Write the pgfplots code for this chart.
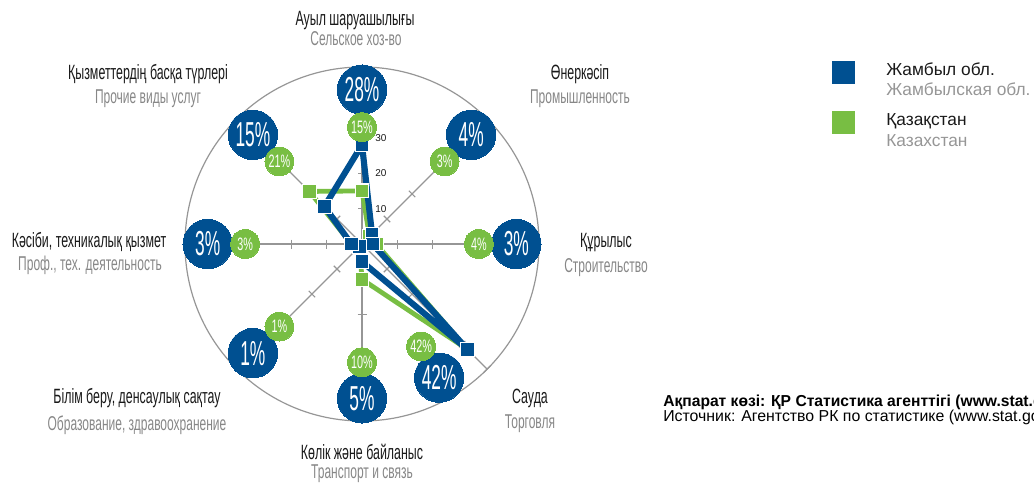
\documentclass[border=0pt]{standalone}
\usepackage{pgfplots}
\pgfplotsset{compat=1.18}
\usepgfplotslibrary{polar}
\usepackage{fontspec}
\setmainfont{Liberation Sans}
\newfontfamily\condA[FakeStretch=0.5]{Liberation Sans}
\newfontfamily\condB[FakeStretch=0.6]{Liberation Sans}
\newfontfamily\srcbold[FakeStretch=0.985]{Liberation Sans}
\definecolor{zblue}{RGB}{0,80,145}
\definecolor{kgreen}{RGB}{120,190,67}
\definecolor{lgray}{RGB}{135,135,135}
\definecolor{lblack}{RGB}{25,25,25}
\definecolor{axgray}{RGB}{150,150,150}

\pgfplotstableread{
a r p
90 43.6 28
45 43.6 4
0 43.6 3
300 43.6 42
270 43.6 5
225 43.6 1
180 43.6 3
135 43.6 15
}\bluebub
\pgfplotstableread{
a r p
90 33 15
45 33 3
0 33 4
300 33.4 42
270 33.4 10
225 33 1
180 33 3
135 33 21
}\greenbub

\newcommand{\blk}[1]{\condB\fontsize{15.5}{17}\selectfont\color{lblack}#1}
\newcommand{\gry}[1]{\condB\fontsize{15}{16}\selectfont\color{lgray}#1}

\begin{document}
\begin{tikzpicture}[x=0.75pt,y=0.75pt]
\useasboundingbox (0,0) rectangle (1034,487);
\clip (0,0) rectangle (1034,487);

% circle and spokes
\begin{scope}[shift={(362,243)}, draw=axgray, line width=0.9pt]
  \draw (0,0) circle[radius=177];
  \foreach \a in {0,45,90,135,180,225,270} {
    \draw (0,0) -- (\a:117);
    \foreach \r in {35.4,70.8} \draw[rotate=\a] (\r,-4.5) -- (\r,4.5);
  }
  \draw (0,0) -- (315:177);
  \foreach \r in {35.4,70.8,106.2,141.6,177} \draw[rotate=315] (\r,-4.5) -- (\r,4.5);
\end{scope}

% radial tick labels
\node[anchor=west, font=\fontsize{7.5}{8}\selectfont, text=lblack, inner sep=0pt] at (375,278) {10};
\node[anchor=west, font=\fontsize{7.5}{8}\selectfont, text=lblack, inner sep=0pt] at (375,314) {20};
\node[anchor=west, font=\fontsize{7.5}{8}\selectfont, text=lblack, inner sep=0pt] at (375,349) {30};

\begin{polaraxis}[
  at={(271.5pt,182.25pt)}, anchor=origin,
  scale only axis, width=265.5pt, height=265.5pt,
  xmin=0, xmax=360, ymin=0, ymax=50,
  hide axis, clip=false, grid=none, xtick=\empty, ytick=\empty,
]
% Kazakhstan line
\addplot[kgreen, line width=3.6pt, line join=round, mark=none] coordinates {
(90,15) (45,3) (0,4) (315,42) (270,10) (225,1) (180,3) (135,21) (90,15)};
% Zhambyl line
\addplot[zblue, line width=4.6pt, line join=round, mark=none] coordinates {
(90,28) (45,4) (0,3) (315,42) (270,5) (225,1) (180,3) (135,15) (90,28)};
% markers
\addplot[only marks, mark=square*, mark size=5.2pt, mark options={fill=kgreen, draw=white, line width=0.8pt}] coordinates {
(90,15) (45,3) (0,4) (315,42) (270,10) (225,1) (180,3) (135,21)};
\addplot[only marks, mark=square*, mark size=5.2pt, mark options={fill=zblue, draw=white, line width=0.8pt}] coordinates {
(90,28) (45,4) (0,3) (315,42) (270,5) (225,1) (180,3) (135,15)};
% bubbles
\addplot[zblue, only marks, mark=*, mark size=18.5pt, mark options={fill=zblue, draw=zblue, line width=0pt},
  point meta=explicit symbolic, nodes near coords={\pgfplotspointmeta\%},
  every node near coord/.append style={anchor=center, text=white, inner sep=0pt,
    font=\condA\fontsize{26}{26}\selectfont}]
  table[x=a, y=r, meta=p] {\bluebub};
\addplot[kgreen, only marks, mark=*, mark size=10.8pt, mark options={fill=kgreen, draw=kgreen, line width=0pt},
  point meta=explicit symbolic, nodes near coords={\pgfplotspointmeta\%},
  every node near coord/.append style={anchor=center, text=white, inner sep=0pt,
    font=\condB\fontsize{13.5}{14}\selectfont}]
  table[x=a, y=r, meta=p] {\greenbub};
\end{polaraxis}

% category labels
\node[anchor=base] at (355,462) {\blk{Ауыл шаруашылығы}};
\node[anchor=base] at (356,442) {\gry{Сельское хоз-во}};
\node[anchor=base] at (580,408) {\blk{Өнеркәсіп}};
\node[anchor=base] at (580,384) {\gry{Промышленность}};
\node[anchor=base] at (606,240) {\blk{Құрылыс}};
\node[anchor=base] at (606,215) {\gry{Строительство}};
\node[anchor=base] at (530,84) {\blk{Сауда}};
\node[anchor=base] at (530,59) {\gry{Торговля}};
\node[anchor=base] at (362,28) {\blk{Көлік және байланыс}};
\node[anchor=base] at (362,9) {\gry{Транспорт и связь}};
\node[anchor=base] at (137,84) {\blk{Білім беру, денсаулық сақтау}};
\node[anchor=base] at (137,57) {\gry{Образование, здравоохранение}};
\node[anchor=base] at (89,240) {\blk{Кәсіби, техникалық қызмет}};
\node[anchor=base] at (90,217) {\gry{Проф., тех. деятельность}};
\node[anchor=base] at (148,408) {\blk{Қызметтердің басқа түрлері}};
\node[anchor=base] at (148,384) {\gry{Прочие виды услуг}};

% legend
\fill[zblue] (832,403) rectangle (855,426);
\fill[kgreen] (832,353) rectangle (855,376);
\node[anchor=base west, inner sep=0pt, font=\fontsize{13}{14}\selectfont, text=lblack] at (886,412) {Жамбыл обл.};
\node[anchor=base west, inner sep=0pt, font=\fontsize{13}{14}\selectfont, text=axgray] at (886,392) {Жамбылская обл.};
\node[anchor=base west, inner sep=0pt, font=\fontsize{13}{14}\selectfont, text=lblack] at (886,362) {Қазақстан};
\node[anchor=base west, inner sep=0pt, font=\fontsize{13}{14}\selectfont, text=axgray] at (886,341) {Казахстан};

% source
\node[anchor=base west, inner sep=0pt, font=\srcbold\bfseries\fontsize{11.9}{12}\selectfont, text=black] at (663,81) {Ақпарат көзі: ҚР Статистика агенттігі (www.stat.gov.kz)};
\node[anchor=base west, inner sep=0pt, font=\fontsize{11.9}{12}\selectfont, text=black] at (663,66) {Источник: Агентство РК по статистике (www.stat.gov.kz)};
\end{tikzpicture}
\end{document}
